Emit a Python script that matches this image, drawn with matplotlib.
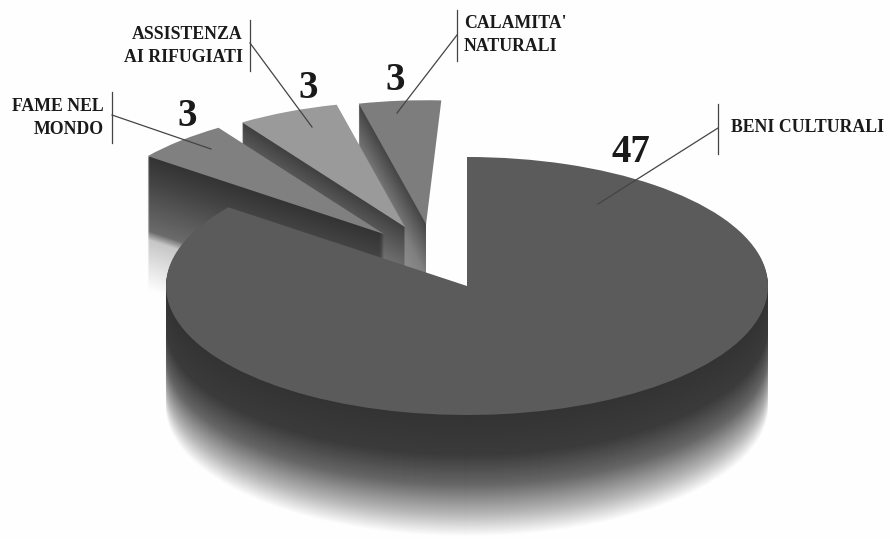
import numpy as np
import matplotlib
matplotlib.use('Agg')
import matplotlib.pyplot as plt
from matplotlib.patches import Wedge, Rectangle

# values, clockwise from 12 o'clock
slice_values = [47, 3, 3, 3]
slice_names = ['BENI CULTURALI', 'FAME NEL\nMONDO', 'ASSISTENZA\nAI RIFUGIATI', "CALAMITA'\nNATURALI"]

W, H = 890, 539
CX, CY = 467, 286       # pie centre in pixels
RX, RY = 301, 129       # ellipse radii in pixels

# the drawing is not quite proportional, each slice differs a bit from its share
sweep_scale = [1.018, 0.97, 1.05, 0.855]
top_colors = ['#5b5b5b', '#808080', '#9a9a9a', '#7d7d7d']
centers = [(0, 0), (-0.276, 0.403), (-0.206, 0.457), (-0.136, 0.480)]
radii = [1.0, 0.99, 0.975, 0.96]
# side wall gradient: depth in px -> gray level
side_depth = [[0, 40, 70, 100, 122], [0, 20, 75, 84, 135], [0, 30, 60], [0, 50, 85]]
side_gray = [[0.20, 0.23, 0.40, 0.72, 1.0], [0.20, 0.25, 0.42, 0.78, 1.0],
             [0.25, 0.38, 0.50], [0.27, 0.50, 0.56]]
draw_order = [3, 2, 1, 0]   # back to front

fig = plt.figure(figsize=(W / 100, H / 100), dpi=100, facecolor='#fefefe')

# pie axes, one data unit = pie radius, so the wedges come out as an ellipse
ax = fig.add_axes([0, 0, 1, 1])
ax.set_xlim(-CX / RX, (W - CX) / RX)
ax.set_ylim(-(H - CY) / RY, CY / RY)
ax.axis('off')

# slice angles from the values
total = sum(slice_values)
sweeps = [v / total * 360 * s for v, s in zip(slice_values, sweep_scale)]
angles = []
start = 90
for sw in sweeps:
    angles.append((start - sw, start))
    start = start - sw

# the last slice has no wall on its right side in the reference
wall_clip = Rectangle((-3, -3), 3 + centers[3][0], 6, transform=ax.transData)

for i in draw_order:
    cx, cy = centers[i]
    a1, a2 = angles[i]
    # side wall, one px high copies, deepest first
    for k in range(side_depth[i][-1], 0, -1):
        g = float(np.interp(k, side_depth[i], side_gray[i]))
        p = ax.add_patch(Wedge((cx, cy - k / RY), radii[i], a1, a2, fc=(g, g, g), ec='none'))
        if i == 3:
            p.set_clip_path(wall_clip)
    ax.add_patch(Wedge((cx, cy), radii[i], a1, a2, fc=top_colors[i], ec='none'))

# overlay in pixel coords for labels and leader lines
ov = fig.add_axes([0, 0, 1, 1])
ov.set_xlim(0, W)
ov.set_ylim(H, 0)
ov.axis('off')
ov.patch.set_alpha(0)

serif = 'Liberation Serif'
line_col = '#444444'

number_pos = [(631, 153), (187, 116), (308, 88), (395, 81)]
for v, (x, y) in zip(slice_values, number_pos):
    ov.text(x, y, str(v), fontsize=28, fontfamily=serif, fontweight='bold',
            color='#1a1a1a', ha='center', va='center')

label_pos = [(731, 127, 'left'), (104, 118, 'right'), (243, 46, 'right'), (464, 35, 'left')]
for name, (x, y, ha) in zip(slice_names, label_pos):
    ov.text(x, y, name, fontsize=12.8, fontfamily=serif, fontweight='bold',
            color='#1a1a1a', ha=ha, va='center', linespacing=1.4)

bars = [(718, 104, 154), (112, 92, 143), (250, 20, 71), (457, 10, 61)]
for x, y0, y1 in bars:
    ov.plot([x, x], [y0, y1], color=line_col, lw=0.9)

leaders = [((718, 128), (598, 204)), ((112, 115), (211, 149)),
           ((250, 43), (312, 127)), ((457, 35), (397, 113))]
for p0, p1 in leaders:
    ov.plot([p0[0], p1[0]], [p0[1], p1[1]], color=line_col, lw=0.9)

fig.savefig('out.png', dpi=100, facecolor=fig.get_facecolor())
